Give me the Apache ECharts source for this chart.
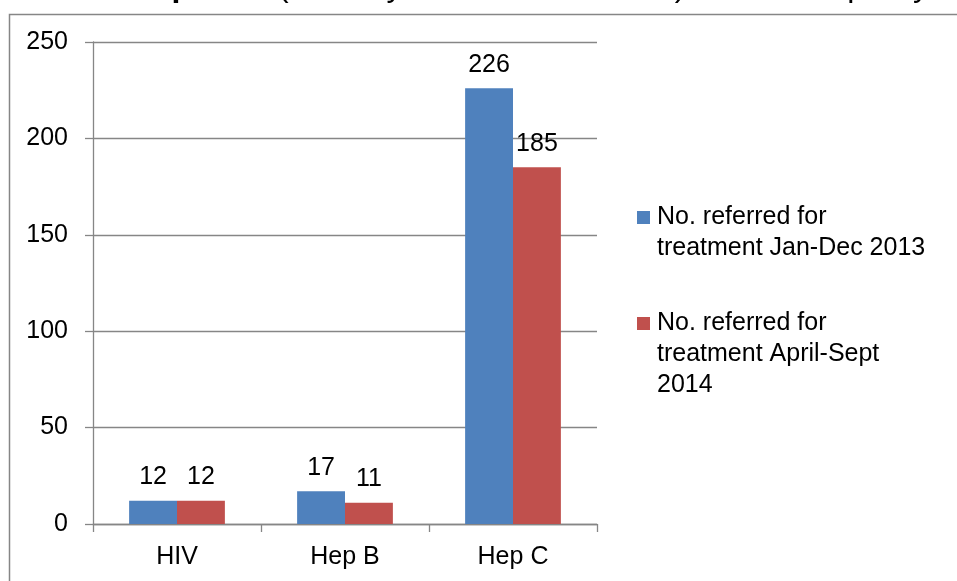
<!DOCTYPE html>
<html>
<head>
<meta charset="utf-8">
<script src="https://cdn.jsdelivr.net/npm/echarts@6/dist/echarts.min.js"></script>
<style>html,body{margin:0;padding:0;background:#fff;}#c{width:957px;height:581px;}</style>
</head>
<body>
<div id="c"></div>
<script>
var categories = ['HIV', 'Hep B', 'Hep C'];
var seriesNames = ['No. referred for\ntreatment Jan-Dec 2013', 'No. referred for\ntreatment April-Sept\n2014'];
var values2013 = [12, 17, 226];
var values2014 = [12, 11, 185];
var yTicks = [0, 50, 100, 150, 200, 250];
var colors = ['#4F81BD', '#C0504D'];

var FONT = 'Liberation Sans, Arial, sans-serif';
var FS = 25;
var chart = echarts.init(document.getElementById('c'));

function legendItem(i, y) {
  return {
    type: 'group', x: 637, y: y,
    children: [
      { type: 'rect', shape: { x: 0, y: 0, width: 13, height: 13 }, style: { fill: colors[i] } },
      { type: 'text', x: 20, y: -9, style: { text: seriesNames[i], font: FS + 'px ' + FONT, fill: '#000', lineHeight: 31 } }
    ]
  };
}

chart.setOption({
  animation: false,
  backgroundColor: '#fff',
  grid: { left: 93, right: 360, top: 42, bottom: 57, containLabel: false },
  xAxis: {
    type: 'category',
    data: categories,
    axisLine: { lineStyle: { color: '#868686', width: 1.3 } },
    axisTick: { show: true, length: 8, lineStyle: { color: '#868686', width: 1.3 } },
    axisLabel: { color: '#000', fontSize: FS, fontFamily: FONT, margin: 21 }
  },
  yAxis: {
    type: 'value',
    min: yTicks[0], max: yTicks[yTicks.length - 1], interval: 50,
    axisLine: { show: true, lineStyle: { color: '#868686', width: 1.3 } },
    axisTick: { show: true, length: 8, lineStyle: { color: '#868686', width: 1.3 } },
    splitLine: { lineStyle: { color: '#868686', width: 1.3 } },
    axisLabel: { color: '#000', fontSize: FS, fontFamily: FONT, margin: 25 }
  },
  series: [
    {
      name: seriesNames[0], type: 'bar', data: values2013,
      barGap: '0%', barCategoryGap: '43%',
      itemStyle: { color: colors[0] },
      label: { show: true, position: 'top', distance: 11, color: '#000', fontSize: FS, fontFamily: FONT }
    },
    {
      name: seriesNames[1], type: 'bar', data: values2014,
      barGap: '0%', barCategoryGap: '43%',
      itemStyle: { color: colors[1] },
      label: { show: true, position: 'top', distance: 11, color: '#000', fontSize: FS, fontFamily: FONT }
    }
  ],
  graphic: [
    {
      type: 'rect', left: 7, top: 12, silent: true,
      shape: { x: 0, y: 0, width: 1200, height: 900 },
      style: { fill: 'none', stroke: '#868686', lineWidth: 1.5 }
    },
    {
      type: 'text', x: 118, y: -29,
      style: {
        text: '{n|the }{b|period}{n| (January to December 2013) before the policy}',
        rich: {
          n: { font: '32px ' + FONT, fill: '#000' },
          b: { font: 'bold 32px ' + FONT, fill: '#000' }
        }
      }
    },
    legendItem(0, 211),
    legendItem(1, 317)
  ]
});
</script>
</body>
</html>
